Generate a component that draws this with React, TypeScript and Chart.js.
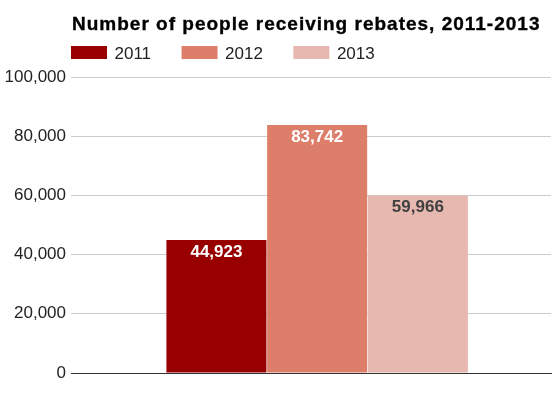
import React, { useEffect, useRef } from "react";
import { Chart, registerables } from "chart.js";

Chart.register(...registerables);

const chartTitle = "Number of people receiving rebates, 2011-2013";
const categories = [""];
const seriesLabels = ["2011", "2012", "2013"];
const values2011 = [44923];
const values2012 = [83742];
const values2013 = [59966];
const seriesColors = ["#980000", "#dd7e6b", "#e6b8af"];
const valueLabelColors = ["#ffffff", "#ffffff", "#404040"];
const yMin = 0;
const yMax = 100000;
const yStep = 20000;

const FONT = '"Liberation Sans", Arial, sans-serif';
const fmt = (v: number) => v.toLocaleString("en-US");

const titlePlugin = {
  id: "customTitle",
  afterDraw(chart: any) {
    const ctx = chart.ctx;
    ctx.save();
    ctx.font = `bold 19px ${FONT}`;
    (ctx as any).letterSpacing = "1px";
    ctx.textBaseline = "alphabetic";
    ctx.textAlign = "left";
    ctx.fillStyle = "#000000";
    ctx.strokeStyle = "#000000";
    ctx.lineWidth = 0.35;
    ctx.fillText(chartTitle, 72, 29.5);
    ctx.strokeText(chartTitle, 72, 29.5);
    ctx.restore();
  },
};

const legendPlugin = {
  id: "customLegend",
  afterDraw(chart: any) {
    const ctx = chart.ctx;
    ctx.save();
    ctx.font = `17px ${FONT}`;
    ctx.textBaseline = "alphabetic";
    ctx.textAlign = "left";
    let x = 71;
    chart.data.datasets.forEach((ds: any) => {
      ctx.fillStyle = ds.backgroundColor;
      ctx.fillRect(x, 46, 36, 13);
      ctx.fillStyle = "#222222";
      ctx.fillText(ds.label, x + 43.5, 59);
      x += 43.5 + ctx.measureText(ds.label).width + 30.5;
    });
    ctx.restore();
  },
};

const valueLabelPlugin = {
  id: "valueLabels",
  afterDatasetsDraw(chart: any) {
    const ctx = chart.ctx;
    ctx.save();
    ctx.font = `bold 17px ${FONT}`;
    ctx.textAlign = "center";
    ctx.textBaseline = "alphabetic";
    chart.data.datasets.forEach((ds: any, i: number) => {
      const meta = chart.getDatasetMeta(i);
      meta.data.forEach((bar: any, j: number) => {
        ctx.fillStyle = valueLabelColors[i];
        ctx.fillText(fmt(ds.data[j]), bar.x, bar.y + 16.5);
      });
    });
    ctx.restore();
  },
};

export default function App() {
  const ref = useRef<HTMLCanvasElement>(null);

  useEffect(() => {
    if (!ref.current) return;
    const seriesValues = [values2011, values2012, values2013];
    const lineColor = (c: any) => (c.tick && c.tick.value === 0 ? "#333333" : "#cccccc");
    const chart = new Chart(ref.current, {
      type: "bar",
      data: {
        labels: categories,
        datasets: seriesLabels.map((label, i) => ({
          label,
          data: seriesValues[i],
          backgroundColor: seriesColors[i],
          borderWidth: 0,
          categoryPercentage: 0.646,
          barPercentage: 0.9934,
        })),
      },
      options: {
        responsive: false,
        animation: false,
        layout: { padding: { left: 0, right: 2, top: 77, bottom: 17 } },
        plugins: {
          legend: { display: false },
          tooltip: { enabled: false },
          title: { display: false },
        },
        scales: {
          x: {
            grid: { display: false },
            ticks: { display: false },
            border: { display: true, color: "#333333", width: 1 },
          },
          y: {
            min: yMin,
            max: yMax,
            afterFit(scale: any) {
              scale.width = 83.3;
            },
            ticks: {
              stepSize: yStep,
              color: "#222222",
              padding: 5,
              font: { family: FONT, size: 17 },
              callback: (v: any) => fmt(Number(v)),
            },
            grid: {
              color: lineColor,
              tickColor: lineColor,
              drawTicks: true,
              tickLength: 12.3,
              lineWidth: 1,
            },
            border: { display: false },
          },
        },
      },
      plugins: [titlePlugin, legendPlugin, valueLabelPlugin],
    });
    return () => chart.destroy();
  }, []);

  return (
    <div style={{ position: "absolute", left: 0, top: 0, width: 553, height: 398, background: "#ffffff" }}>
      <canvas ref={ref} width={553} height={398} />
    </div>
  );
}
